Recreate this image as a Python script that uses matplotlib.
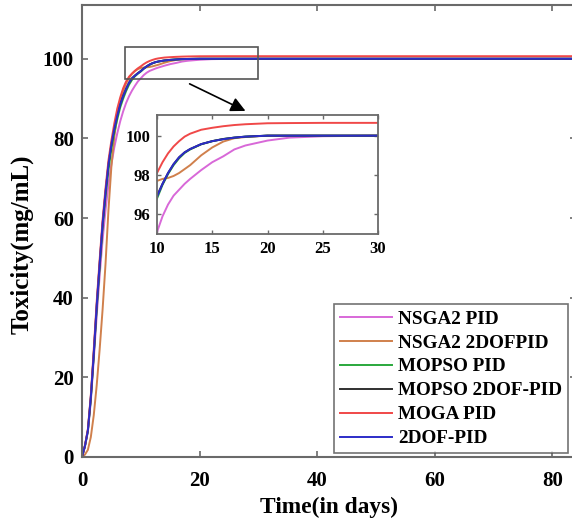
import numpy as np
import matplotlib
matplotlib.use('Agg')
from matplotlib import pyplot as plt
from matplotlib.patches import Rectangle

plt.rcParams['font.family'] = ['Liberation Serif', 'DejaVu Serif']
plt.rcParams['font.weight'] = 'bold'

# time samples (days)
t = [0, 0.5, 1, 1.5, 2, 2.5, 3, 3.5, 4, 4.5, 5, 5.5, 6, 6.5, 7, 7.5, 8, 8.5, 9, 9.5,
     10, 10.5, 11, 11.5, 12, 12.5, 13, 14, 15, 16, 17, 18, 20, 22, 25, 30, 40, 60, 100]

# toxicity responses (mg/mL)
nsga2_pid = [0, 2.6, 6.3, 14, 24.5, 35.5, 45.5, 54.5, 62, 68.5, 73.5, 77.8, 81.3, 84.3, 86.8, 88.9, 90.6, 92, 93.2, 94.3,
             95.1, 95.9, 96.5, 96.95, 97.25, 97.55, 97.8, 98.25, 98.65, 98.95, 99.3, 99.5, 99.75, 99.9, 99.97, 100, 100, 100, 100]
nsga2_2dof = [0, 0.6, 1.8, 5, 10.5, 18, 27, 37, 48.5, 62, 73, 80.5, 85.8, 89.5, 92, 93.8, 95.2, 96.2, 96.9, 97.4,
              97.7, 97.8, 97.85, 97.95, 98.1, 98.3, 98.5, 99.0, 99.4, 99.7, 99.87, 99.93, 100, 100, 100, 100, 100, 100, 100]
mopso_pid = [0, 2.7, 6.5, 14.5, 25.5, 37, 47.5, 57.5, 65.5, 72, 77.5, 81.5, 84.8, 87.8, 90, 91.9, 93.5, 94.7, 95.6, 96.25,
             96.8, 97.5, 98.05, 98.5, 98.85, 99.12, 99.3, 99.56, 99.72, 99.83, 99.9, 99.95, 100, 100, 100, 100, 100, 100, 100]
mopso_2dof = [0, 2.8, 6.7, 15, 26, 38, 48.5, 58.5, 66.5, 73.5, 78.5, 82.5, 85.8, 88.6, 90.7, 92.5, 94, 95.1, 95.8, 96.4,
              96.95, 97.55, 98.1, 98.55, 98.9, 99.15, 99.32, 99.57, 99.72, 99.83, 99.9, 99.95, 100, 100, 100, 100, 100, 100, 100]
moga_pid = [0, 2.9, 7, 15.5, 27, 39, 49.5, 59.5, 67.5, 74.5, 79.5, 83.8, 87.5, 90.3, 92.6, 94.3, 95.5, 96.3, 97.0, 97.6,
            98.1, 98.65, 99.1, 99.45, 99.72, 99.95, 100.1, 100.3, 100.4, 100.48, 100.54, 100.58, 100.63, 100.64, 100.65, 100.65, 100.65, 100.65, 100.65]
dof2_pid = [0, 2.8, 6.7, 15, 26, 38, 48.5, 58.5, 66.5, 73.5, 78.5, 82.5, 85.7, 88.5, 90.6, 92.4, 94, 95.1, 95.75, 96.35,
            96.9, 97.55, 98.1, 98.55, 98.9, 99.15, 99.32, 99.57, 99.72, 99.82, 99.9, 99.95, 100, 100, 100, 100, 100, 100, 100]

labels = ['NSGA2 PID', 'NSGA2 2DOFPID', 'MOPSO PID', 'MOPSO 2DOF-PID', 'MOGA PID', '2DOF-PID']
series = [nsga2_pid, nsga2_2dof, mopso_pid, mopso_2dof, moga_pid, dof2_pid]
colors = ['#d868d8', '#d0804c', '#2aa83c', '#303030', '#f04848', '#2c2cc8']

spine_c = '#6a6a6a'

fig = plt.figure(figsize=(5.72, 5.22), dpi=100)
ax = fig.add_axes([82/572, 65/522, 494/572, 452/522])

for y, c, lab in zip(series, colors, labels):
    ax.plot(t, y, color=c, lw=1.4, label=lab)

ax.set_xlim(0, 84)
ax.set_ylim(0, 113.5)
ax.set_xticks([0, 20, 40, 60, 80])
ax.set_yticks([0, 20, 40, 60, 80, 100])
ax.tick_params(direction='in', length=4, width=1.2, color=spine_c, labelsize=15,
               top=True, right=True)
ax.tick_params(axis='x', pad=10)
ax.tick_params(axis='y', pad=6)
for s in ax.spines.values():
    s.set_color(spine_c)
    s.set_linewidth(1.5)
ax.set_xlabel('Time(in days)', fontsize=16.8, fontweight='bold', labelpad=4)
ax.set_ylabel('Toxicity(mg/mL)', fontsize=18, fontweight='bold')
ax.yaxis.set_label_coords(-0.097, 0.47)

# zoom region and pointer
ax.add_patch(Rectangle((7.3, 95), 22.7, 8, fill=False, ec='#555555', lw=1.2, zorder=5))
ax.annotate('', xy=(27.8, 86.9), xytext=(18.3, 93.7),
            arrowprops=dict(arrowstyle='-|>', color='k', lw=1.2, mutation_scale=22,
                            shrinkA=0, shrinkB=0))

leg = ax.legend(loc='lower right', bbox_to_anchor=(568/572, 69/522), bbox_transform=fig.transFigure,
                fontsize=13.8, frameon=True, fancybox=False, edgecolor='#505050',
                handlelength=2.75, handletextpad=0.3, labelspacing=0.34,
                borderpad=0.3, borderaxespad=0)
leg.get_frame().set_linewidth(1.2)
for txt in leg.get_texts():
    txt.set_fontweight('bold')

# inset
axi = fig.add_axes([157/572, (522-234)/522, 221/572, 119/522])
for y, c in zip(series, colors):
    axi.plot(t, y, color=c, lw=1.4)
axi.set_xlim(10, 30)
axi.set_ylim(95, 101.05)
axi.set_xticks([10, 15, 20, 25, 30])
axi.set_yticks([96, 98, 100])
axi.tick_params(direction='in', length=3, width=1.0, color=spine_c, labelsize=12,
                top=True, right=True, pad=5)
for s in axi.spines.values():
    s.set_color(spine_c)
    s.set_linewidth(1.3)

fig.savefig('out.png', dpi=100)
